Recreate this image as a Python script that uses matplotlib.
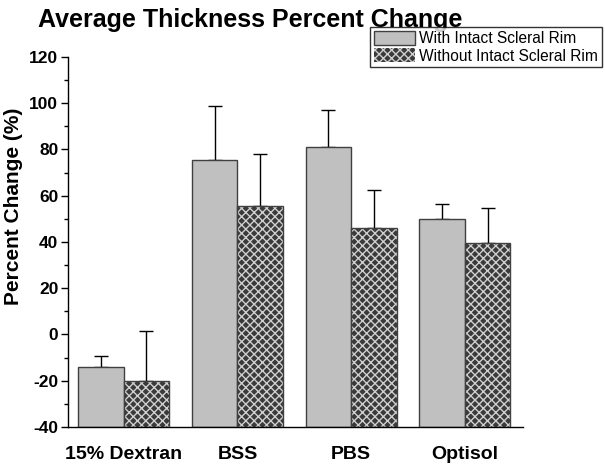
import numpy as np
import matplotlib.pyplot as plt
from matplotlib.patches import Patch

plt.rcParams['font.family'] = ['Liberation Sans', 'DejaVu Sans']
plt.rcParams['axes.unicode_minus'] = False

# data
groups = ['15% Dextran', 'BSS', 'PBS', 'Optisol']
with_rim = [-14, 75.5, 81, 50]
with_rim_err = [4.5, 23.5, 16, 6.5]
without_rim = [-20, 55.5, 46, 39.5]
without_rim_err = [21.5, 22.5, 16.5, 15]
series_labels = ['With Intact Scleral Rim', 'Without Intact Scleral Rim']

ymin, ymax = -40, 120
w = 0.40
x = np.arange(len(groups))

fig = plt.figure(figsize=(6.05, 4.69), dpi=100)
ax = fig.add_axes([0.1124, 0.0896, 0.752, 0.789])

light = '#c0c0c0'
dark = '#404040'

# bars start from the bottom of the axis (Origin style)
h1 = np.array(with_rim) - ymin
h2 = np.array(without_rim) - ymin
ax.bar(x - w / 2, h1, w, bottom=ymin, color=light, edgecolor=dark, linewidth=1, zorder=2)
plt.rcParams['hatch.linewidth'] = 1.0
ax.bar(x + w / 2, h2, w, bottom=ymin, color='#3a3a3a', edgecolor='#cfcfcf',
       hatch='xxxx', linewidth=0, zorder=2)
ax.bar(x + w / 2, h2, w, bottom=ymin, fill=False, edgecolor=dark, linewidth=1, zorder=3)

ax.errorbar(x - w / 2, with_rim, yerr=[np.zeros(4), with_rim_err], fmt='none',
            ecolor='black', elinewidth=1, capsize=5, capthick=1, zorder=1)
ax.errorbar(x + w / 2, without_rim, yerr=[np.zeros(4), without_rim_err], fmt='none',
            ecolor='black', elinewidth=1, capsize=5, capthick=1, zorder=1)

ax.set_xlim(-0.49, 3.51)
ax.set_ylim(ymin, ymax)
ax.set_yticks(np.arange(-40, 121, 20))
ax.set_yticks(np.arange(-40, 121, 10), minor=True)
ax.set_xticks(x)
ax.set_xticklabels(groups, fontsize=14, fontweight='bold')
ax.tick_params(axis='x', length=0, pad=14)
ax.tick_params(axis='y', which='major', length=5, width=1, labelsize=12.5, pad=2)
ax.tick_params(axis='y', which='minor', length=3, width=1)
for lab in ax.get_yticklabels():
    lab.set_fontweight('bold')
for s in ['top', 'right']:
    ax.spines[s].set_visible(False)
ax.spines['left'].set_linewidth(1)
ax.spines['bottom'].set_linewidth(1)

ax.set_ylabel('Percent Change (%)', fontsize=15, fontweight='bold')
ax.yaxis.set_label_coords(-0.10, 0.597)
fig.text(0.413, 0.957, 'Average Thickness Percent Change', fontsize=18,
         fontweight='bold', ha='center', va='center')

handles = [Patch(facecolor=light, edgecolor=dark, linewidth=1),
           Patch(facecolor='#3a3a3a', edgecolor='#cfcfcf', hatch='xxxx', linewidth=0)]
leg = fig.legend(handles, series_labels, loc='upper right', bbox_to_anchor=(0.995, 0.943),
                 fontsize=11.2, frameon=True, fancybox=False, edgecolor='black',
                 borderpad=0.25, labelspacing=0.15, handlelength=2.6, handleheight=1.0,
                 handletextpad=0.3, borderaxespad=0)
leg.get_frame().set_linewidth(1)

fig.savefig('out.png', dpi=100)
